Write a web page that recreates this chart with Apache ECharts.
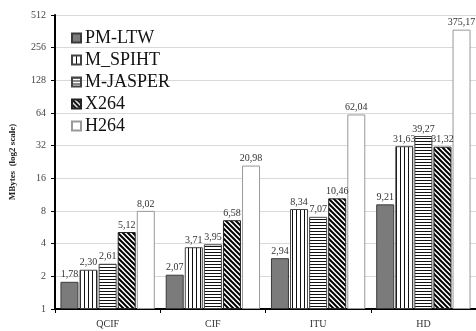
<!DOCTYPE html>
<html><head><meta charset="utf-8">
<script src="https://cdn.jsdelivr.net/npm/echarts@6/dist/echarts.min.js"></script>
<style>html,body{margin:0;padding:0;background:#fff}#c{width:476px;height:331px}</style>
</head><body><div id="c"></div>
<script>
const categories = ['QCIF', 'CIF', 'ITU', 'HD'];
const seriesNames = ['PM-LTW', 'M_SPIHT', 'M-JASPER', 'X264', 'H264'];
const pmLtw = [1.78, 2.07, 2.94, 9.21];
const mSpiht = [2.30, 3.71, 8.34, 31.63];
const mJasper = [2.61, 3.95, 7.07, 39.27];
const x264 = [5.12, 6.58, 10.46, 31.32];
const h264 = [8.02, 20.98, 62.04, 375.17];
const yTicks = [1, 2, 4, 8, 16, 32, 64, 128, 256, 512];

function pattern(kind) {
  const c = document.createElement('canvas');
  const s = kind === 'diag' ? 5 : (kind === 'h' ? 3 : 4);
  c.width = s; c.height = s;
  const g = c.getContext('2d');
  g.fillStyle = '#fff'; g.fillRect(0, 0, s, s);
  g.fillStyle = '#111';
  if (kind === 'v') g.fillRect(0, 0, 1, s);
  if (kind === 'h') g.fillRect(0, 0, s, 1);
  if (kind === 'diag') {
    g.strokeStyle = '#000'; g.lineWidth = 2;
    g.beginPath();
    g.moveTo(-1, -1); g.lineTo(s + 1, s + 1);
    g.moveTo(-1 - s, -1); g.lineTo(1, s + 1);
    g.moveTo(s - 1, -1); g.lineTo(2 * s + 1, s + 1);
    g.stroke();
  }
  return { image: c, repeat: 'repeat' };
}

const styles = [
  { color: '#7b7b7b', borderColor: '#3a3a3a', borderWidth: 1 },
  { color: pattern('v'), borderColor: '#444', borderWidth: 1 },
  { color: pattern('h'), borderColor: '#444', borderWidth: 1 },
  { color: pattern('diag'), borderColor: '#222', borderWidth: 1 },
  { color: '#ffffff', borderColor: '#999', borderWidth: 1 }
];
const datasets = [pmLtw, mSpiht, mJasper, x264, h264];
const serif = 'Liberation Serif';

const chart = echarts.init(document.getElementById('c'), null, { renderer: 'canvas' });
chart.setOption({
  animation: false,
  backgroundColor: '#fff',
  grid: { left: 54, top: 15, width: 428, bottom: 22, containLabel: false },
  legend: {
    orient: 'vertical', left: 66, top: 24,
    icon: 'rect',
    itemWidth: 9, itemHeight: 9, itemGap: 4,
    textStyle: { fontFamily: serif, fontSize: 18, color: '#111', padding: [0, 0, 0, -1] },
    data: seriesNames
  },
  xAxis: {
    type: 'category', data: categories,
    axisLine: { lineStyle: { color: '#000', width: 2 } },
    axisTick: { show: true, length: 4, lineStyle: { color: '#000' } },
    axisLabel: { fontFamily: serif, fontSize: 10, color: '#333', margin: 10 }
  },
  yAxis: {
    type: 'log', logBase: 2, min: 1, max: 512,
    name: 'MBytes  (log2 scale)', nameLocation: 'middle', nameGap: 38,
    nameTextStyle: { fontFamily: serif, fontSize: 9, fontWeight: 'bold', color: '#222' },
    axisLine: { show: true, lineStyle: { color: '#000', width: 2 } },
    axisTick: { show: true, length: 4, lineStyle: { color: '#000' } },
    axisLabel: { fontFamily: serif, fontSize: 10, color: '#444', margin: 9,
      formatter: v => yTicks.includes(Math.round(v)) ? String(Math.round(v)) : '' },
    splitLine: { lineStyle: { color: '#d9d9d9' } }
  },
  series: datasets.map((d, i) => ({
    name: seriesNames[i], type: 'bar', data: d,
    barWidth: 18, barGap: '6%',
    itemStyle: styles[i],
    label: { show: true, position: 'top', distance: 2, fontFamily: serif, fontSize: 10, color: '#333',
      formatter: p => p.value.toFixed(2).replace('.', ',') }
  }))
});
</script></body></html>
